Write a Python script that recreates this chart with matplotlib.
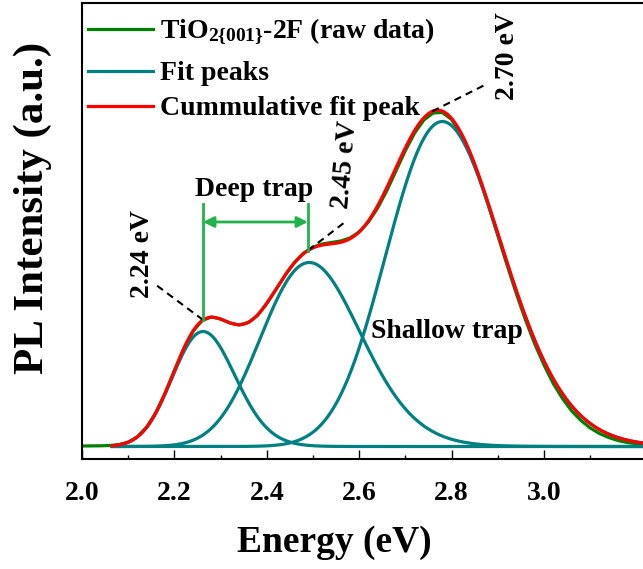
import matplotlib
matplotlib.use('Agg')
import matplotlib.pyplot as plt
import numpy as np

# Fuente tipo Times en negrita para todo
plt.rcParams['font.family'] = 'Liberation Serif'
plt.rcParams['font.weight'] = 'bold'
plt.rcParams['mathtext.fontset'] = 'custom'
plt.rcParams['mathtext.rm'] = 'Liberation Serif:bold'
plt.rcParams['mathtext.it'] = 'Liberation Serif:bold'
plt.rcParams['mathtext.bf'] = 'Liberation Serif:bold'

energy_raw = np.round(np.arange(2.0, 3.2201, 0.02), 2)
pl_raw = [0.5, 0.6, 0.7, 1.0, 1.8, 4.3, 9.8, 19.3, 34.0, 53.5,
          76.0, 97.5, 115.0, 126.0, 129.5, 127.5, 123.5, 121.5, 124.0, 131.0,
          143.0, 157.0, 171.5, 184.0, 193.5, 199.5, 202.5, 204.0, 205.5, 208.5,
          214.5, 224.5, 238.5, 256.0, 276.0, 296.0, 313.5, 326.5, 333.5, 334.0,
          327.0, 313.0, 293.0, 268.5, 240.5, 211.0, 181.5, 153.0, 126.5, 102.5,
          81.5, 63.0, 48.0, 35.5, 26.0, 18.5, 13.0, 9.0, 6.0, 4.0,
          2.8, 2.0]

# Picos del ajuste: gaussianas en longitud de onda (centro en eV, ancho en nm)
peak_centers = [2.262, 2.492, 2.78]
peak_heights = [115, 184, 325]
peak_widths_nm = [16.5, 21.5, 20.0]
fit_range = (2.065, 3.22)
HC = 1239.84  # eV*nm

peak_labels = ['2.24 eV', '2.45 eV', '2.70 eV']
legend_labels = ['TiO$_{2\\{001\\}}$-2F (raw data)', 'Fit peaks',
                 'Cummulative fit peak']

green_raw = '#008000'
teal = '#008080'
red = '#ff0000'
bright_green = '#22b14c'

fig = plt.figure(figsize=(6.43, 5.69), dpi=100)
ax = fig.add_axes([82 / 643, 1 - 459 / 569, 561 / 643, 456 / 569])

e_fit = np.linspace(fit_range[0], fit_range[1], 600)
lam = HC / e_fit
peaks = [h * np.exp(-(lam - HC / c) ** 2 / (2 * w ** 2))
         for c, h, w in zip(peak_centers, peak_heights, peak_widths_nm)]
cumulative = np.sum(peaks, axis=0)

ax.plot(energy_raw, pl_raw, color=green_raw, lw=2.3, zorder=2)
for p in peaks:
    ax.plot(e_fit, p, color=teal, lw=2.3, zorder=3)
ax.plot(e_fit, cumulative, color=red, lw=2.3, zorder=4)

ax.set_xlim(2.0, 2.0 + 561 / 462)
ax.set_ylim(-12.5, 443.5)
ax.set_xticks([2.0, 2.2, 2.4, 2.6, 2.8, 3.0])
ax.set_xticks(np.arange(2.1, 3.2, 0.2), minor=True)
ax.set_yticks([])
ax.tick_params(axis='x', which='major', direction='in', length=6.5, width=1,
               labelsize=20, pad=16)
ax.tick_params(axis='x', which='minor', direction='in', length=3, width=1)
ax.spines['right'].set_visible(False)
for s in ['left', 'bottom', 'top']:
    ax.spines[s].set_linewidth(1.5)

ax.set_xlabel('Energy (eV)', fontsize=27, fontweight='bold')
ax.xaxis.set_label_coords(0.45, -0.145)
ax.set_ylabel('PL Intensity (a.u.)', fontsize=31, fontweight='bold')
ax.yaxis.set_label_coords(-0.053, 0.55)

# Leyenda a mano para respetar el espaciado del original
leg_colors = [green_raw, teal, red]
leg_rows = [0.943, 0.851, 0.774]
for lab, col, yr in zip(legend_labels, leg_colors, leg_rows):
    ax.plot([0.0107, 0.1266], [yr, yr], color=col, lw=2.3,
            transform=ax.transAxes, clip_on=False)
    ax.text(0.139, yr - 0.0197, lab, fontsize=20, fontweight='bold',
            ha='left', va='baseline', transform=ax.transAxes)

# Anotaciones de los picos
def curve_at(x):
    return np.interp(x, e_fit, cumulative)

lab_pos = [(2.132, 192), (2.571, 282), (2.922, 390)]
lab_rot = [90, 85, 90]
line_start = [2.262, 2.489, 2.758]
line_end = [(2.162, 161), (2.568, 224), (2.874, 362)]
for lab, pos, rot, xs, le in zip(peak_labels, lab_pos, lab_rot, line_start, line_end):
    ax.text(pos[0], pos[1], lab, rotation=rot, fontsize=20, fontweight='bold',
            ha='center', va='center', zorder=6)
    ax.plot([xs, le[0]], [curve_at(xs), le[1]], color='black', lw=1.5,
            ls=(0, (3.5, 2.5)), zorder=5)

# Trampa profunda
x1, x2 = 2.262, 2.489
ax.plot([x1, x1], [curve_at(x1), 243], color=bright_green, lw=2, zorder=5)
ax.plot([x2, x2], [curve_at(x2), 243], color=bright_green, lw=2, zorder=5)
ax.annotate('', xy=(x2, 224.5), xytext=(x1, 224.5),
            arrowprops=dict(arrowstyle='<|-|>', color=bright_green, lw=2,
                            mutation_scale=16, shrinkA=0, shrinkB=0), zorder=5)
ax.text((x1 + x2) / 2 - 0.002, 257, 'Deep trap', fontsize=20,
        fontweight='bold', ha='center', va='center')
ax.text(2.79, 115.5, 'Shallow trap', fontsize=20, fontweight='bold',
        ha='center', va='center')

fig.savefig('out.png', dpi=100)
